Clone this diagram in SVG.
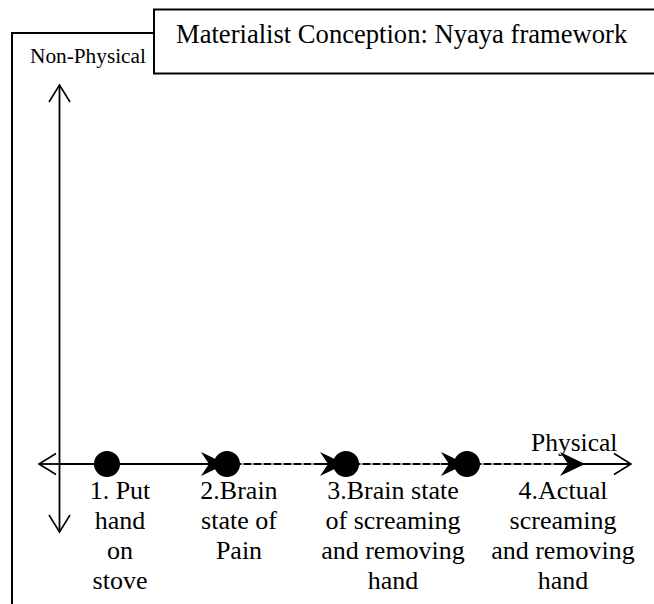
<svg xmlns="http://www.w3.org/2000/svg" width="654" height="604" viewBox="0 0 654 604">
<defs>
<style>
.ln{stroke:#000;stroke-width:2;fill:none}
.ax{stroke:#000;stroke-width:1.8;fill:none}
.t{font-family:"Liberation Serif","Times New Roman",serif;fill:#000}
.lab{font-size:26px;text-anchor:middle}
.dot{fill:#000}
</style>
<marker id="open" viewBox="0 0 24 24" refX="21" refY="12" markerWidth="24" markerHeight="24" markerUnits="userSpaceOnUse" orient="auto">
<path d="M4,1.5 L21,12 L4,22.5" fill="none" stroke="#000" stroke-width="1.6"/>
</marker>
<path id="stealth" d="M0,0 L-25,-12 L-17,0 L-25,12 Z" fill="#000"/>
</defs>
<rect width="654" height="604" fill="#fff"/>
<g id="frame">
<path class="ln" d="M12,604 V33 H154"/>
</g>
<g id="title">
<rect x="154" y="9.5" width="520" height="64" fill="#fff" stroke="#000" stroke-width="2"/>
<text class="t" x="176" y="43" font-size="26.6">Materialist Conception: Nyaya framework</text>
</g>
<g id="label-nonphysical">
<text class="t" x="30" y="63" font-size="21.3">Non-Physical</text>
</g>
<g id="label-physical">
<text class="t" x="531" y="451" font-size="25.5">Physical</text>
</g>
<g id="connectors">
<line class="ax" x1="59.5" y1="464" x2="59.5" y2="85" marker-end="url(#open)"/>
<line class="ax" x1="59.5" y1="464" x2="59.5" y2="532" marker-end="url(#open)"/>
<line class="ax" x1="59.5" y1="464" x2="39" y2="464" marker-end="url(#open)"/>
<line class="ax" x1="59.5" y1="464" x2="631" y2="464" marker-end="url(#open)"/>
<path d="M241,464 H320 M360,464 H441 M481,464 H560" stroke="#fff" stroke-opacity="0.6" stroke-width="2.5" stroke-dasharray="3 7" fill="none"/>
<use href="#stealth" x="226" y="464"/>
<use href="#stealth" x="345" y="464"/>
<use href="#stealth" x="466" y="464"/>
<use href="#stealth" x="585" y="464"/>
</g>
<g id="node1">
<circle class="dot" cx="107" cy="464" r="13"/>
<text class="t lab"><tspan x="120" y="499">1. Put</tspan><tspan x="120" y="529">hand</tspan><tspan x="120" y="559">on</tspan><tspan x="120" y="589">stove</tspan></text>
</g>
<g id="node2">
<circle class="dot" cx="227" cy="464" r="13"/>
<text class="t lab"><tspan x="239" y="499">2.Brain</tspan><tspan x="239" y="529">state of</tspan><tspan x="239" y="559">Pain</tspan></text>
</g>
<g id="node3">
<circle class="dot" cx="346" cy="464" r="13"/>
<text class="t lab"><tspan x="393" y="499">3.Brain state</tspan><tspan x="393" y="529">of screaming</tspan><tspan x="393" y="559">and removing</tspan><tspan x="393" y="589">hand</tspan></text>
</g>
<g id="node4">
<circle class="dot" cx="467" cy="464" r="13"/>
<text class="t lab"><tspan x="563" y="499">4.Actual</tspan><tspan x="563" y="529">screaming</tspan><tspan x="563" y="559">and removing</tspan><tspan x="563" y="589">hand</tspan></text>
</g>
</svg>
